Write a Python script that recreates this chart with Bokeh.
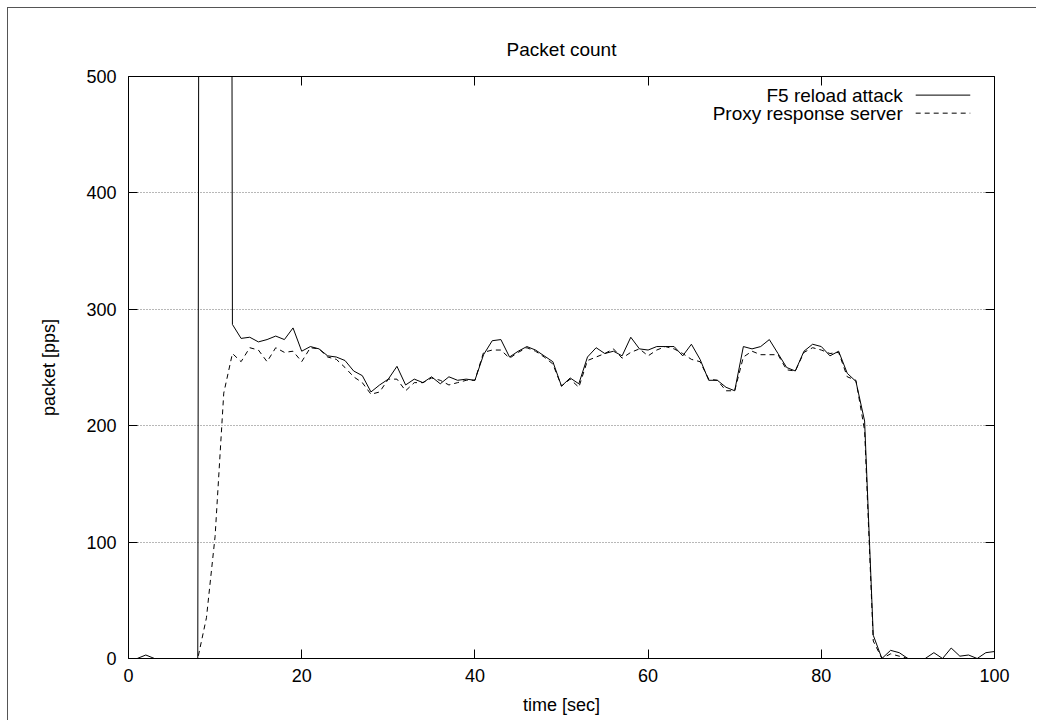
from bokeh.plotting import figure
from bokeh.models import Range1d, FixedTicker, LinearAxis, Label
from bokeh.embed import file_html
from bokeh.resources import INLINE

# ---------------- data ----------------
time_sec = list(range(0, 101))
f5_reload_attack = [
    0, 0, 3, 0, 0, 0, 0, 0, 0, 5000,
    5100, 4800, 287, 275, 276, 272, 274, 277, 274, 284,
    264, 268, 266, 260, 259, 256, 247, 243, 229, 235,
    240, 251, 235, 240, 237, 242, 236, 242, 239, 240,
    239, 261, 273, 274, 259, 264, 268, 265, 260, 255,
    234, 241, 236, 259, 267, 262, 264, 260, 276, 266,
    265, 268, 268, 268, 260, 270, 257, 239, 239, 233,
    230, 268, 266, 268, 274, 262, 250, 247, 264, 270,
    268, 260, 264, 245, 238, 204, 20, 0, 7, 5,
    0, 0, 0, 5, 0, 9, 2, 3, 0, 5,
    6,
]
proxy_response_server = [
    0, 0, 0, 0, 0, 0, 0, 0, 0, 35,
    105, 228, 262, 255, 267, 265, 255, 267, 263, 264,
    255, 267, 266, 259, 257, 250, 242, 237, 227, 229,
    240, 240, 230, 237, 237, 241, 239, 235, 237, 239,
    239, 263, 265, 265, 258, 263, 267, 264, 259, 253,
    234, 240, 233, 256, 259, 262, 266, 258, 263, 266,
    260, 265, 268, 266, 262, 257, 255, 240, 239, 230,
    230, 259, 264, 261, 261, 261, 248, 247, 263, 267,
    265, 262, 263, 242, 239, 196, 15, 0, 4, 2,
    0, 0, 0, 0, 0, 0, 0, 0, 0, 0,
    0,
]
series_labels = ["F5 reload attack", "Proxy response server"]
x_ticks = [0, 20, 40, 60, 80, 100]
y_ticks = [0, 100, 200, 300, 400, 500]
y_grid = [100, 200, 300, 400]

# ---------------- style ----------------
FONT = "Liberation Sans"
X_MIN, X_MAX = 0, 100
Y_MIN, Y_MAX = 0, 500

p = figure(
    width=1029, height=713,
    output_backend="svg", toolbar_location=None,
    x_range=Range1d(X_MIN, X_MAX), y_range=Range1d(Y_MIN, Y_MAX),
    min_border_left=120, min_border_right=43,
    min_border_top=68, min_border_bottom=63,
    title="Packet count",
    x_axis_label="time [sec]", y_axis_label="packet [pps]",
)
p.styles = {
    "margin-left": "7px", "margin-top": "7px",
    "border-left": "1px solid #555555", "border-top": "1px solid #555555",
}
p.background_fill_color = "white"
p.border_fill_color = "white"
p.outline_line_color = "black"
p.outline_line_width = 1

p.title.text_font = FONT
p.title.text_font_size = "19px"
p.title.text_font_style = "normal"
p.title.align = "center"
p.title.text_color = "black"
p.title.standoff = 34

for ax in (p.xaxis[0], p.yaxis[0]):
    ax.axis_line_color = None
    ax.major_tick_in = 9
    ax.major_tick_out = 0
    ax.major_tick_line_color = "black"
    ax.minor_tick_line_color = None
    ax.major_label_text_font = FONT
    ax.major_label_text_font_size = "18px"
    ax.major_label_text_color = "black"
    ax.axis_label_text_font = FONT
    ax.axis_label_text_font_size = "18px"
    ax.axis_label_text_font_style = "normal"
    ax.axis_label_text_color = "black"

p.xaxis[0].ticker = FixedTicker(ticks=x_ticks)
p.yaxis[0].ticker = FixedTicker(ticks=y_ticks)
p.xaxis[0].major_label_standoff = 10
p.yaxis[0].major_label_standoff = 12
p.xaxis[0].axis_label_standoff = 10
p.yaxis[0].axis_label_standoff = 24

# mirrored inward ticks on top and right (no labels drawn)
top_ax = LinearAxis(ticker=FixedTicker(ticks=x_ticks))
right_ax = LinearAxis(ticker=FixedTicker(ticks=y_ticks))
for ax in (top_ax, right_ax):
    ax.axis_line_color = None
    ax.major_tick_in = 9
    ax.major_tick_out = 0
    ax.major_tick_line_color = "black"
    ax.minor_tick_line_color = None
    ax.major_label_text_font_size = "0px"
    ax.major_label_text_color = None
    ax.major_label_standoff = 0
p.add_layout(top_ax, "above")
p.add_layout(right_ax, "right")

p.xgrid.visible = False
p.ygrid.ticker = FixedTicker(ticks=y_grid)
p.ygrid.grid_line_color = "#707070"
p.ygrid.grid_line_dash = "1 2"
p.ygrid.grid_line_width = 1

p.line(time_sec, f5_reload_attack, line_color="black", line_width=1)
p.line(time_sec, proxy_response_server, line_color="black", line_width=1,
       line_dash="5 4")

# legend (text left of sample, gnuplot style), placed in range fractions
LEG_TEXT_X = X_MIN + 0.894 * (X_MAX - X_MIN)
LEG_S0 = X_MIN + 0.909 * (X_MAX - X_MIN)
LEG_S1 = X_MIN + 0.972 * (X_MAX - X_MIN)
LEG_ROW_Y = [Y_MIN + 0.968 * (Y_MAX - Y_MIN), Y_MIN + 0.937 * (Y_MAX - Y_MIN)]
dashes = [None, "5 4"]
for lab, ry, d in zip(series_labels, LEG_ROW_Y, dashes):
    p.add_layout(Label(x=LEG_TEXT_X, y=ry, text=lab, text_align="right",
                       text_baseline="middle", text_font=FONT,
                       text_font_size="19px", text_color="black"))
    kw = dict(line_color="black", line_width=1)
    if d:
        kw["line_dash"] = d
    p.line([LEG_S0, LEG_S1], [ry, ry], **kw)

open("out.html", "w").write(file_html(p, INLINE))
